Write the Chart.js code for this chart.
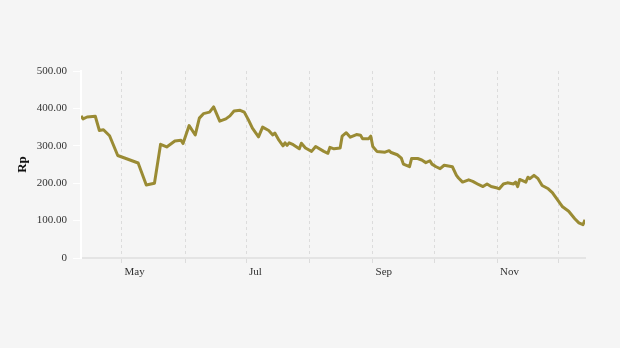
<!DOCTYPE html>
<html>
<head>
<meta charset="utf-8">
<script src="https://cdn.jsdelivr.net/npm/chart.js@4"></script>
<style>
    html, body { margin: 0; background: #f5f5f5; }
</style>
</head>
<body>
<canvas id="chart" width="620" height="348"></canvas>
<script>
// trading days, counted as days since 1 April
const days = [
    10, 11, 13, 17, 19, 21, 24, 28, 38, 42,
    46, 49, 52, 56, 59, 60, 63, 66, 68, 70,
    73, 75, 78, 81, 83, 85, 88, 90, 92, 94,
    97, 99, 102, 104, 105, 107, 109, 110, 111, 112,
    114, 117, 118, 120, 123, 125, 129, 131, 132, 134,
    137, 138, 140, 142, 145, 147, 148, 151, 152, 153,
    155, 159, 161, 162, 165, 167, 168, 171, 172, 175,
    177, 179, 181, 182, 184, 186, 188, 192, 194, 195,
    197, 200, 202, 205, 207, 209, 211, 214, 215, 217,
    219, 222, 223, 224, 225, 228, 229, 230, 232, 234,
    236, 239, 241, 244, 246, 249, 252, 254, 256, 257,
];
const prices = [
    380, 372, 377, 379, 341, 343, 327, 274, 254, 195,
    200, 304, 297, 313, 315, 306, 354, 329, 374, 386,
    390, 404, 366, 372, 380, 393, 395, 390, 370, 347,
    324, 350, 341, 329, 334, 315, 300, 308, 301, 308,
    303, 292, 307, 294, 285, 298, 285, 280, 296, 292,
    294, 326, 335, 323, 330, 328, 319, 319, 326, 298,
    285, 283, 287, 282, 276, 267, 251, 244, 266, 266,
    262, 255, 260, 251, 244, 239, 248, 244, 221, 214,
    203, 209, 205, 196, 191, 198, 191, 187, 185, 198,
    201, 198, 203, 191, 210, 203, 216, 212, 221, 212,
    194, 185, 175, 152, 137, 125, 105, 94, 89, 102,
];
const monthStarts = [30, 61, 91, 122, 153, 183, 214, 244];
const monthNames = ["May", "Jun", "Jul", "Aug", "Sep", "Oct", "Nov", "Dec"];
const shownMonths = ["May", "Jul", "Sep", "Nov"];

const font = { family: "'Liberation Serif', 'DejaVu Serif', serif", size: 11 };

new Chart(document.getElementById("chart"), {
    type: "line",
    data: {
        datasets: [
            {
                data: days.map((d, i) => ({ x: d, y: prices[i] })),
                borderColor: "rgb(154,139,52)",
                borderWidth: 3,
                borderJoinStyle: "round",
                pointRadius: 0,
                tension: 0,
            },
        ],
    },
    options: {
        responsive: false,
        animation: false,
        layout: {
            padding: { top: 71, right: 35, bottom: 60, left: 0 },
        },
        plugins: {
            legend: { display: false },
            tooltip: { enabled: false },
        },
        scales: {
            x: {
                type: "linear",
                min: 10,
                max: 257,
                afterBuildTicks: (scale) => {
                    scale.ticks = monthStarts.map((v) => ({ value: v }));
                },
                afterFit: (scale) => {
                    scale.height = 30;
                },
                ticks: {
                    autoSkip: false,
                    maxRotation: 0,
                    align: "start",
                    padding: 3,
                    color: "#333",
                    font,
                    callback: (v) => {
                        const name = monthNames[monthStarts.indexOf(v)];
                        return shownMonths.includes(name) ? " " + name : "";
                    },
                },
                grid: {
                    color: "#dcdcdc",
                    lineWidth: 1,
                    tickLength: 5,
                },
                border: {
                    color: "#e4e4e4",
                    width: 2,
                    dash: [3, 3],
                },
            },
            y: {
                min: 0,
                max: 500,
                afterFit: (scale) => {
                    scale.width = 81;
                },
                ticks: {
                    stepSize: 100,
                    padding: 6,
                    color: "#333",
                    font,
                    callback: (v) => (v === 0 ? "0" : v.toFixed(2)),
                },
                grid: {
                    drawOnChartArea: false,
                    color: "#ffffff",
                    tickLength: 8,
                },
                border: {
                    color: "#ffffff",
                    width: 2,
                },
                title: {
                    display: true,
                    text: "Rp",
                    color: "#111",
                    padding: { top: 15, bottom: 0 },
                    font: { family: font.family, size: 13, weight: "bold" },
                },
            },
        },
    },
});
</script>
</body>
</html>
